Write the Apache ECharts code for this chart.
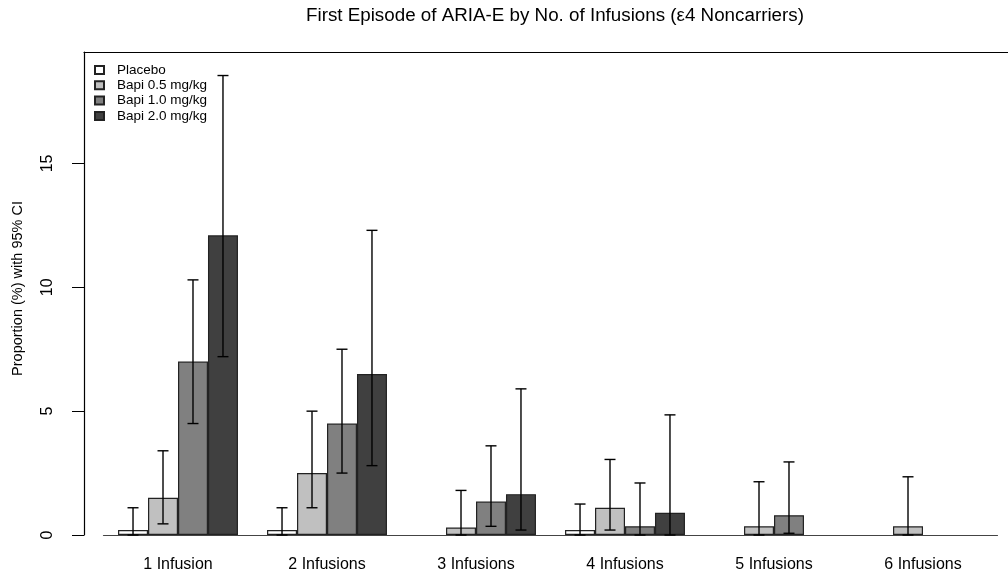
<!DOCTYPE html>
<html>
<head>
<meta charset="utf-8">
<script src="https://cdn.jsdelivr.net/npm/echarts@6/dist/echarts.min.js"></script>
<style>
  html, body { margin: 0; padding: 0; background: #fff; }
  #main { width: 1008px; height: 579px; }
</style>
</head>
<body>
<div id="main"></div>
<script>
// values (percent)
var categories = ['1 Infusion', '2 Infusions', '3 Infusions', '4 Infusions', '5 Infusions', '6 Infusions'];
var seriesNames = ['Placebo', 'Bapi 0.5 mg/kg', 'Bapi 1.0 mg/kg', 'Bapi 2.0 mg/kg'];

var placebo     = [0.2, 0.2, null, 0.2, null, null];
var placeboLow  = [0, 0, null, 0, null, null];
var placeboHigh = [1.1, 1.1, null, 1.25, null, null];

var bapi05     = [1.5, 2.5, 0.3, 1.1, 0.35, 0.35];
var bapi05Low  = [0.45, 1.1, 0, 0.2, 0, 0];
var bapi05High = [3.4, 5.0, 1.8, 3.05, 2.15, 2.35];

var bapi10     = [7.0, 4.5, 1.35, 0.35, 0.8, null];
var bapi10Low  = [4.5, 2.5, 0.35, 0, 0.07, null];
var bapi10High = [10.3, 7.5, 3.6, 2.1, 2.95, null];

var bapi20     = [12.1, 6.5, 1.65, 0.9, null, null];
var bapi20Low  = [7.2, 2.8, 0.2, 0, null, null];
var bapi20High = [18.55, 12.3, 5.9, 4.85, null, null];

var yTicks = [0, 5, 10, 15];

var fills = ['#ffffff', '#c0c0c0', '#808080', '#404040'];
var values = [placebo, bapi05, bapi10, bapi20];
var lows = [placeboLow, bapi05Low, bapi10Low, bapi20Low];
var highs = [placeboHigh, bapi05High, bapi10High, bapi20High];

var font = 'Liberation Sans, Arial, sans-serif';
var yMax = 19.5;
var gapPct = 0.195;

var myChart = echarts.init(document.getElementById('main'));

// error bars, drawn over the bars at each bar's centre
function ciSeries(k) {
    var data = [];
    for (var i = 0; i < categories.length; i++) {
        if (values[k][i] != null) data.push([i, lows[k][i], highs[k][i]]);
    }
    return {
        type: 'custom',
        name: 'ci' + k,
        xAxisIndex: 1,
        yAxisIndex: 1,
        z: 5,
        silent: true,
        data: data,
        renderItem: function (params, api) {
            var band = api.size([1, 0])[0];
            var barW = band * (1 - gapPct) / 4;
            var lo = api.coord([api.value(0), api.value(1)]);
            var hi = api.coord([api.value(0), api.value(2)]);
            var x = lo[0] + (k - 1.5) * barW;
            var cap = 5.5;
            var st = { stroke: '#000', lineWidth: 1.4 };
            return {
                type: 'group',
                children: [
                    { type: 'line', shape: { x1: x, y1: lo[1], x2: x, y2: hi[1] }, style: st },
                    { type: 'line', shape: { x1: x - cap, y1: hi[1], x2: x + cap, y2: hi[1] }, style: st },
                    { type: 'line', shape: { x1: x - cap, y1: lo[1], x2: x + cap, y2: lo[1] }, style: st }
                ]
            };
        }
    };
}

var series = [];
for (var k = 0; k < 4; k++) {
    series.push({
        name: seriesNames[k],
        type: 'bar',
        xAxisIndex: 1,
        yAxisIndex: 1,
        data: values[k],
        barGap: '0%',
        barCategoryGap: (gapPct * 100) + '%',
        itemStyle: { color: fills[k], borderColor: '#222', borderWidth: 1.2 },
        emphasis: { disabled: true }
    });
}
for (var k = 0; k < 4; k++) series.push(ciSeries(k));

var option = {
    animation: false,
    backgroundColor: '#fff',
    title: {
        text: 'First Episode of ARIA-E by No. of Infusions (\u03b54 Noncarriers)',
        left: 301,
        top: 1,
        textStyle: { fontFamily: font, fontSize: 18.8, fontWeight: 'normal', color: '#000' }
    },
    legend: {
        data: seriesNames,
        orient: 'vertical',
        left: 89,
        top: 58,
        itemWidth: 9,
        itemHeight: 8,
        itemGap: 1.3,
        icon: 'rect',
        textStyle: { fontFamily: font, fontSize: 13.5, color: '#000', lineHeight: 13, padding: [0, 0, 0, 8] },
        selectedMode: false
    },
    grid: [
        { left: 84, right: -10, top: 52, bottom: 44 },
        { left: 103.5, right: 10.5, top: 52, bottom: 44 }
    ],
    xAxis: [
        {
            type: 'value', gridIndex: 0, position: 'top', min: 0, max: 1,
            axisLine: { show: true, onZero: false, lineStyle: { color: '#000', width: 1.2 } },
            axisTick: { show: false }, axisLabel: { show: false }, splitLine: { show: false }
        },
        {
            type: 'category',
            gridIndex: 1,
            data: categories,
            axisLine: { show: true, lineStyle: { color: '#444', width: 1.2 } },
            axisTick: { show: false },
            axisLabel: { fontFamily: font, fontSize: 16, color: '#000', margin: 22 }
        }
    ],
    yAxis: [
        {
            type: 'value',
            gridIndex: 0,
            min: 0,
            max: yMax,
            interval: 5,
            name: 'Proportion (%) with 95% CI',
            nameLocation: 'middle',
            nameRotate: 90,
            nameGap: 59,
            nameTextStyle: { fontFamily: font, fontSize: 14.5, color: '#000', padding: [0, 0, 0, 10] },
            axisLine: { show: true, onZero: false, lineStyle: { color: '#000', width: 1.2 } },
            axisTick: { show: true, inside: false, length: 12, lineStyle: { color: '#000' } },
            axisLabel: {
                fontFamily: font, fontSize: 16, color: '#000', rotate: 90, margin: 28,
                showMaxLabel: false,
                formatter: function (v) { return yTicks.indexOf(v) >= 0 ? String(v) : ''; }
            },
            splitLine: { show: false }
        },
        { type: 'value', gridIndex: 1, min: 0, max: yMax, show: false, splitLine: { show: false } }
    ],
    series: series
};

myChart.setOption(option);
</script>
</body>
</html>
